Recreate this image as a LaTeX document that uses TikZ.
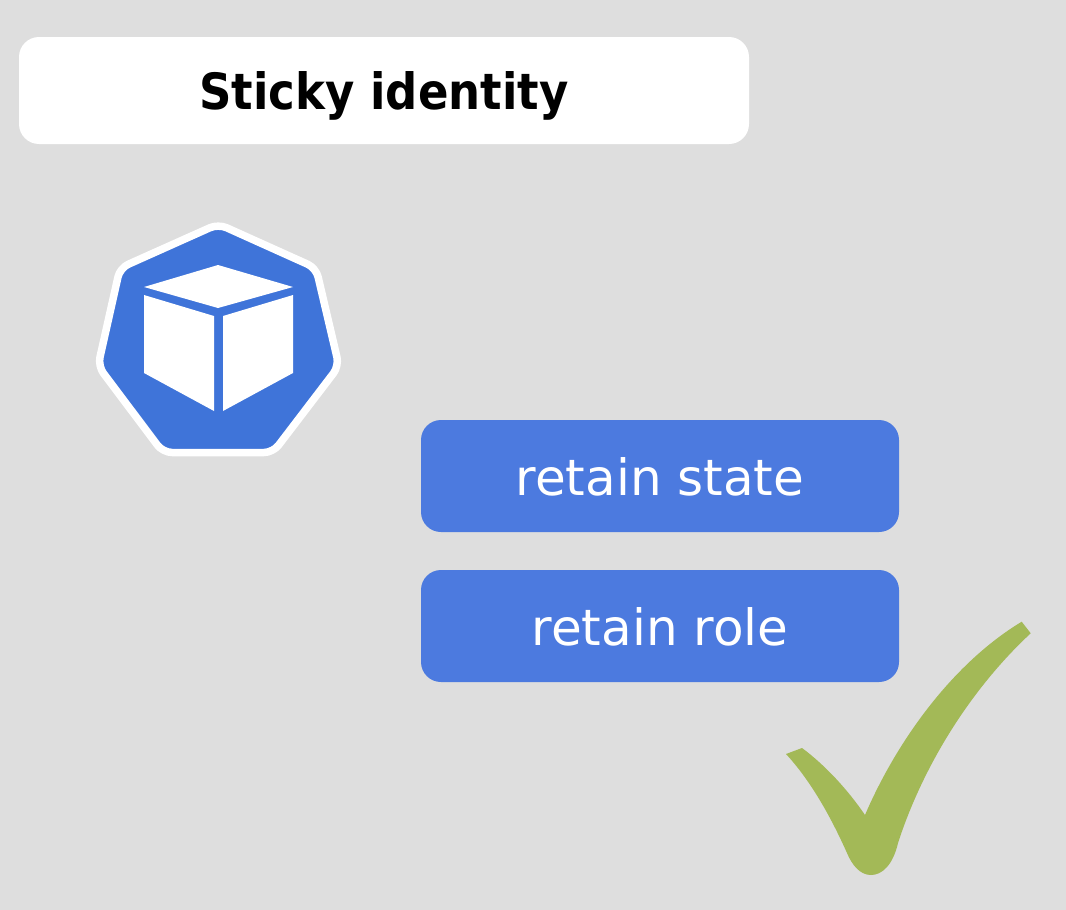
\documentclass[tikz,border=0pt]{standalone}
\usepackage{fontspec}
\setmainfont{DejaVu Sans}
\newfontfamily\titlefont[FakeStretch=0.9]{DejaVu Sans}
\definecolor{bgc}{HTML}{DEDEDE}
\definecolor{boxblue}{HTML}{4C7ADF}
\definecolor{hepblue}{HTML}{3F74D9}
\definecolor{chk}{HTML}{A3B957}
\tikzset{
  titlebox/.style={fill=white,rounded corners=20pt,minimum width=730pt,minimum height=107pt,inner sep=0pt,text height=37pt,text depth=0pt,font=\titlefont\fontsize{50}{58}\selectfont\bfseries,text=black},
  bluebox/.style={fill=boxblue,rounded corners=20pt,minimum width=478pt,minimum height=112pt,inner sep=0pt,text height=38pt,text depth=0pt,font=\fontsize{50}{58}\selectfont,text=white},
  cubeface/.style={fill=white,draw=none}
}
\begin{document}
\begin{tikzpicture}[x=1pt,y=-1pt]
\useasboundingbox (0,0) rectangle (1066,910);
\fill[bgc] (0,0) rectangle (1066,910);
\node[titlebox] (title) at (384,90.5) {Sticky identity};
\node[bluebox] (state) at (660,476) {retain state};
\node[bluebox] (role) at (660,626) {retain role};
% heptagon
\draw[fill=hepblue,draw=white,line width=7.5pt,rounded corners=9pt,line join=round]
 (218.3,224) -- (316,268) -- (339,366) -- (273,452.5) -- (163,452.5) -- (98,366) -- (120,268) -- cycle;
\fill[cubeface] (218,265) -- (293,287) -- (218,308) -- (144,287) -- cycle;
\fill[cubeface] (144,295) -- (214,316) -- (214,411) -- (144,373) -- cycle;
\fill[cubeface] (223,316) -- (293,295) -- (293,373) -- (223,411) -- cycle;
% check mark
\fill[chk] (786,754) -- (802,748)
 .. controls (825,765) and (848,790) .. (865,815)
 .. controls (895,745) and (950,665) .. (1021.7,621.7)
 -- (1030.7,633.3)
 .. controls (975,685) and (925,760) .. (898,843)
 .. controls (893,865) and (882,875) .. (871,875)
 .. controls (860,875) and (852,865) .. (847,853)
 .. controls (830,815) and (810,780) .. (786,754) -- cycle;
\end{tikzpicture}
\end{document}
